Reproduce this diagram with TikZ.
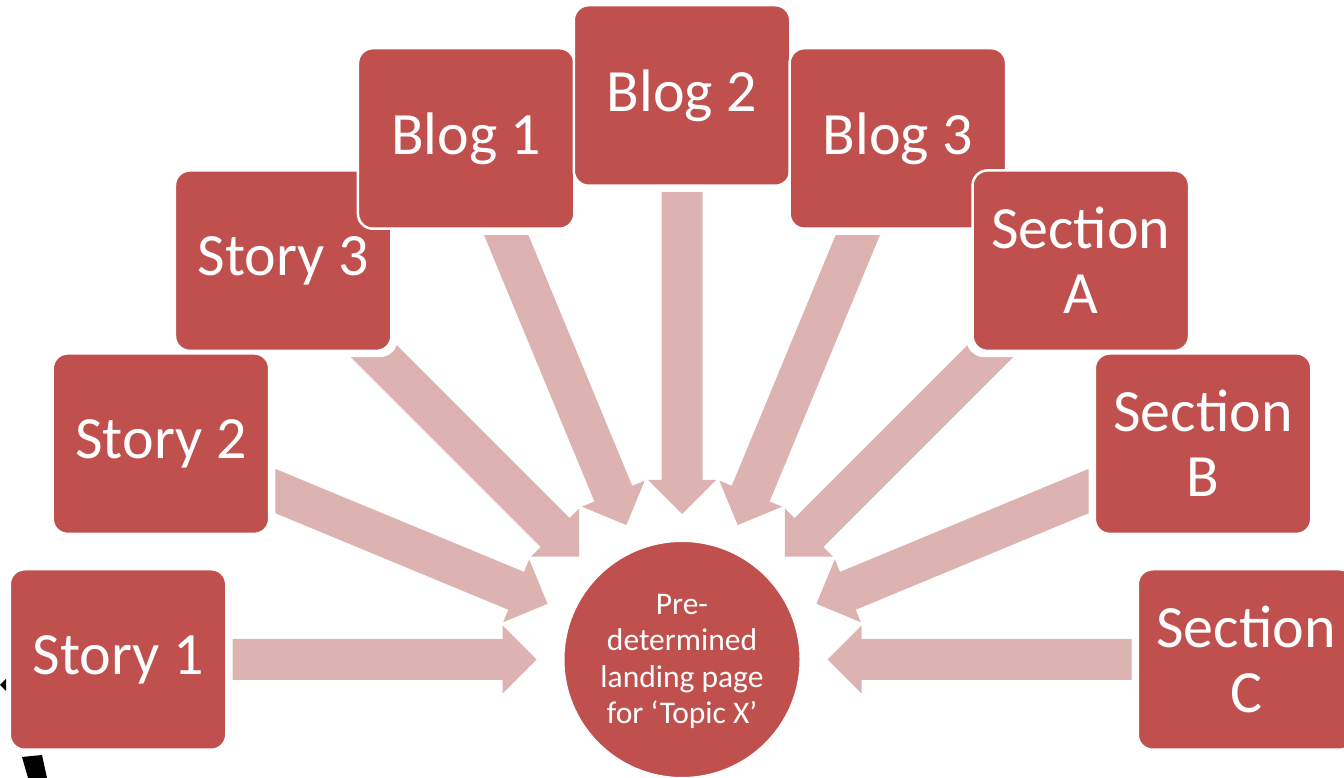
\documentclass[tikz,border=0pt]{standalone}
\usepackage{fontspec}
\setmainfont{Carlito}
\usetikzlibrary{calc}
\definecolor{boxred}{HTML}{C0504D}
\definecolor{arrowpink}{HTML}{DDB3B2}
\pgfdeclarelayer{arrowlayer}
\pgfdeclarelayer{halolayer}
\pgfsetlayers{arrowlayer,halolayer,main}
\newcommand\blockarrow[1]{%
  \begin{pgfonlayer}{arrowlayer}
  \path ($(hub.center)!145.5pt!(#1.center)$) coordinate (t#1)
        ($(hub.center)!179.5pt!(#1.center)$) coordinate (h#1);
  \fill[arrowpink] (t#1)
    -- ($(h#1)!34pt!90:(#1.center)$)
    -- ($(h#1)!20.5pt!90:(#1.center)$)
    -- ($(#1.center)!20.5pt!-90:(hub.center)$)
    -- ($(#1.center)!20.5pt!90:(hub.center)$)
    -- ($(h#1)!20.5pt!-90:(#1.center)$)
    -- ($(h#1)!34pt!-90:(#1.center)$)
    -- cycle;
  \end{pgfonlayer}}
\newcommand\boxhalo[1]{%
  \begin{pgfonlayer}{halolayer}
  \fill[white, rounded corners=18pt] ($(#1.south west)+(-5,-5)$) rectangle ($(#1.north east)+(5,5)$);
  \end{pgfonlayer}}
\begin{document}
\begin{tikzpicture}[x=1pt,y=1pt,
  box/.style={rectangle, rounded corners=15pt, minimum width=216.5pt, minimum height=180.5pt,
    fill=boxred, draw=white, line width=2.5pt, text=white, inner sep=0pt, align=center,
    font=\fontsize{60}{65}\selectfont},
  hubnode/.style={circle, minimum size=236pt, fill=boxred, draw=white, line width=1pt,
    text=white, inner sep=0pt, align=center, font=\fontsize{31.5}{36.5}\selectfont}]
\useasboundingbox (0,0) rectangle (1344,778);
\clip (0,0) rectangle (1344,778);
\node[hubnode] (hub) at (682,118.5) {};
\node[text=white, align=center, inner sep=0pt, font=\fontsize{31.5}{36.5}\selectfont]
  (hubtext) at ($(hub.center)+(0,-2)$) {Pre-\\determined\\landing page\\for ‘Topic X’};
\foreach \nm/\ang/\txt in {s1/180/Story 1, s2/157.5/Story 2, s3/135/Story 3,
    b1/112.5/Blog 1, b2/90/Blog 2, b3/67.5/Blog 3,
    sa/45/Section\\A, sb/22.5/Section\\B, sc/0/Section\\C}{
  \node[box] (\nm) at ($(hub.center)+(\ang:564pt)$) {\txt};
}
\foreach \nm in {s1,s2,s3,b1,b2,b3,sa,sb,sc}{
  \blockarrow{\nm}
  \boxhalo{\nm}
}
% black fragments at the left edge
\fill[black] (0,93) -- (6,99) -- (6,87) -- cycle;
\fill[black] (22,21) -- (42,23) -- (47,0) -- (28,0) -- cycle;
\end{tikzpicture}
\end{document}
